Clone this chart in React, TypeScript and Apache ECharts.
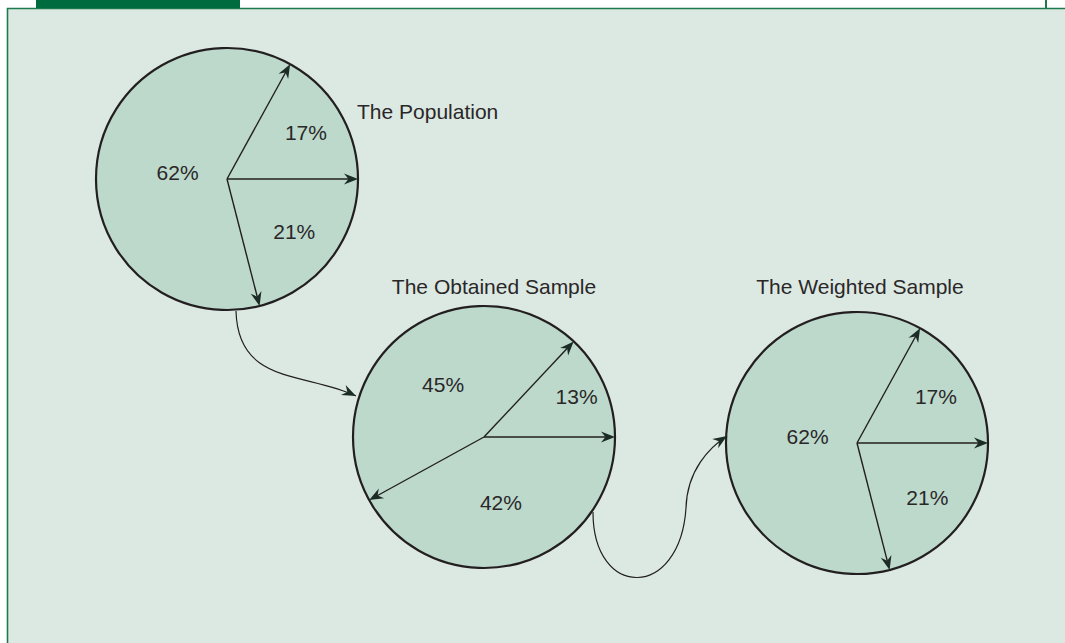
import React, { useEffect, useRef } from "react";
import * as echarts from "echarts";

// ---- data ----
const pieTitles = ["The Population", "The Obtained Sample", "The Weighted Sample"];
const populationShares = [17, 62, 21];
const obtainedShares = [13, 45, 42];
const weightedShares = [17, 62, 21];
const shareSets = [populationShares, obtainedShares, weightedShares];

// ---- layout / style ----
const centers: number[][] = [
  [227, 179],
  [484, 437],
  [857, 443],
];
const RADIUS = 131;
const labelRadiusFrac = [
  [0.7, 0.38, 0.65],
  [0.77, 0.51, 0.52],
  [0.7, 0.38, 0.68],
];
const titlePos: [number, number, string][] = [
  [357, 111, "left"],
  [494, 286, "center"],
  [860, 286, "center"],
];

const FILL = "#bcd9cc";
const BG = "#dce9e2";
const INK = "#231f20";
const TEXT = "#2a2728";
const HEAD = "#1b2b25";
const FRAME = "#1d7a4e";
const TAB = "#006b3f";
const FONT = "'Liberation Sans', Arial, Helvetica, sans-serif";

function headPoints(tx: number, ty: number, ang: number, len = 14, half = 5.5) {
  const dx = Math.cos(ang);
  const dy = Math.sin(ang);
  const px = -dy;
  const py = dx;
  const bx = tx - dx * len;
  const by = ty - dy * len;
  const nx = tx - dx * len * 0.68;
  const ny = ty - dy * len * 0.68;
  return [
    [tx, ty],
    [bx + px * half, by + py * half],
    [nx, ny],
    [bx - px * half, by - py * half],
  ];
}

function connector(
  x1: number, y1: number, cpx1: number, cpy1: number,
  cpx2: number, cpy2: number, x2: number, y2: number, withHead: boolean
) {
  const els: any[] = [
    {
      type: "bezierCurve",
      z: 50,
      shape: { x1, y1, cpx1, cpy1, cpx2, cpy2, x2, y2 },
      style: { stroke: INK, lineWidth: 1.2, fill: "none" },
      silent: true,
    },
  ];
  if (withHead) {
    els.push({
      type: "polygon",
      z: 51,
      shape: { points: headPoints(x2, y2, Math.atan2(y2 - cpy2, x2 - cpx2)) },
      style: { fill: HEAD },
      silent: true,
    });
  }
  return els;
}

export default function App() {
  const ref = useRef<HTMLDivElement>(null);

  useEffect(() => {
    if (!ref.current) return;
    const chart = echarts.init(ref.current, undefined, { renderer: "svg" });

    const pieSeries = shareSets.map((vals, i) => ({
      type: "pie",
      name: pieTitles[i],
      center: centers[i],
      radius: RADIUS,
      startAngle: 0,
      clockwise: false,
      silent: true,
      z: 1,
      label: { show: false },
      labelLine: { show: false },
      emphasis: { disabled: true },
      itemStyle: { color: FILL, borderColor: FILL, borderWidth: 0.5 },
      data: vals.map((v, k) => ({ value: v, name: `${pieTitles[i]} ${k + 1}` })),
    }));

    const customSeries = {
      type: "custom",
      coordinateSystem: "none",
      silent: true,
      z: 5,
      data: shareSets.map((_, i) => [i]),
      renderItem: (params: any) => {
        const i = params.dataIndex;
        const [cx, cy] = centers[i];
        const vals = shareSets[i];
        const total = vals.reduce((a, b) => a + b, 0);
        const children: any[] = [
          {
            type: "circle",
            shape: { cx, cy, r: RADIUS },
            style: { fill: "none", stroke: INK, lineWidth: 2.2 },
          },
        ];
        let acc = 0;
        vals.forEach((v, k) => {
          const start = (acc / total) * Math.PI * 2;
          const mid = ((acc + v / 2) / total) * Math.PI * 2;
          acc += v;
          const dx = Math.cos(start);
          const dy = -Math.sin(start);
          const tipX = cx + dx * RADIUS;
          const tipY = cy + dy * RADIUS;
          children.push({
            type: "line",
            shape: { x1: cx, y1: cy, x2: tipX - dx * 8, y2: tipY - dy * 8 },
            style: { stroke: INK, lineWidth: 1.4 },
          });
          children.push({
            type: "polygon",
            shape: { points: headPoints(tipX, tipY, Math.atan2(dy, dx)) },
            style: { fill: HEAD },
          });
          const f = labelRadiusFrac[i][k];
          children.push({
            type: "text",
            x: cx + Math.cos(mid) * RADIUS * f,
            y: cy - Math.sin(mid) * RADIUS * f,
            style: {
              text: `${v}%`,
              fill: TEXT,
              fontSize: 21,
              fontFamily: FONT,
              align: "center",
              verticalAlign: "middle",
            },
          });
        });
        return { type: "group", children };
      },
    };

    const graphics: any[] = [
      {
        type: "rect",
        z: -10,
        silent: true,
        shape: { x: 7.5, y: 8.5, width: 1100, height: 700 },
        style: { fill: BG, stroke: FRAME, lineWidth: 1.6 },
      },
      {
        type: "rect",
        z: -9,
        silent: true,
        shape: { x: 36, y: 0, width: 204, height: 8 },
        style: { fill: TAB },
      },
      {
        type: "line",
        z: -9,
        silent: true,
        shape: { x1: 1046, y1: 0, x2: 1046, y2: 8 },
        style: { stroke: FRAME, lineWidth: 2 },
      },
      ...titlePos.map(([x, y, align], i) => ({
        type: "text",
        z: 60,
        silent: true,
        x,
        y,
        style: {
          text: pieTitles[i],
          fill: TEXT,
          fontSize: 21,
          fontFamily: FONT,
          align,
          verticalAlign: "middle",
        },
      })),
      ...connector(236, 311, 238, 385, 305, 372, 356, 396, true),
      ...connector(593, 512, 593, 600, 680, 600, 686, 508, false),
      ...connector(686, 508, 687, 470, 710, 447, 727, 436, true),
    ];

    chart.setOption({
      animation: false,
      backgroundColor: "#ffffff",
      series: [...pieSeries, customSeries],
      graphic: { elements: graphics },
    });

    return () => chart.dispose();
  }, []);

  return (
    <div
      ref={ref}
      style={{ position: "fixed", left: 0, top: 0, width: 1065, height: 643 }}
    />
  );
}
